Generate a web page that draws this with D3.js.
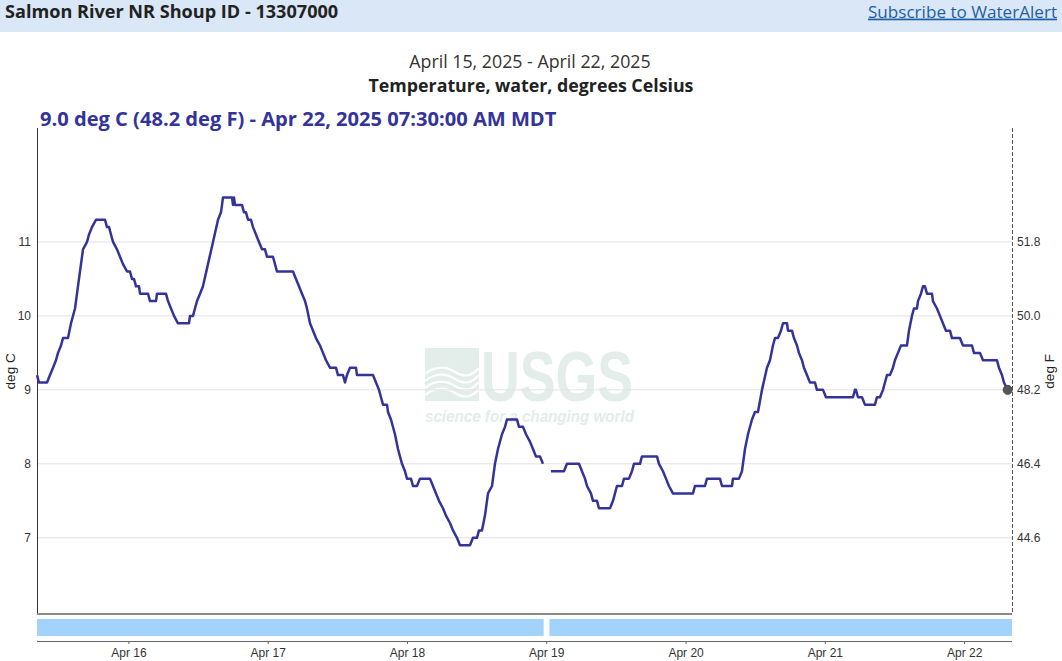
<!DOCTYPE html>
<html>
<head>
<meta charset="utf-8">
<script src="https://cdn.jsdelivr.net/npm/d3@7"></script>
<style>
  html, body { margin: 0; padding: 0; background: #fff; }
  svg { display: block; }
</style>
</head>
<body>
<svg id="chart" width="1062" height="661"></svg>
<script>
// ---------------- DATA ----------------
const siteTitle = "Salmon River NR Shoup ID - 13307000";
const linkText = "Subscribe to WaterAlert";
const dateRangeText = "April 15, 2025 - April 22, 2025";
const paramText = "Temperature, water, degrees Celsius";
const latestText = "9.0 deg C (48.2 deg F) - Apr 22, 2025 07:30:00 AM MDT";
const leftAxisLabel = "deg C";
const rightAxisLabel = "deg F";

// Series start (local MDT clock time) and window length
const seriesStart = "2025-04-15T08:15:00Z";
const windowHours = 168;

// Readings: hours since seriesStart, water temperature (deg C); null = gap in record
const hours = [
  0, 0.34, 1.72, 2.24, 2.76, 3.27, 3.62, 4.14, 4.48, 5.34, 5.86, 6.55, 7.06, 7.93, 8.62, 8.96, 9.48, 10.17,
  11.72, 12.06, 12.41, 12.75, 13.10, 13.78, 14.30, 14.82, 15.51, 16.02, 16.37, 16.71, 17.06, 17.58, 17.75,
  19.13, 19.47, 20.50, 20.68, 22.23, 22.57, 23.09, 23.61, 24.29, 26.19, 26.36, 26.88, 27.22, 27.57, 28.09,
  28.60, 29.46, 30.33, 31.19, 31.70, 31.88, 32.05, 33.60, 33.77, 33.94, 34.12, 35.32, 35.67, 36.01, 36.36,
  36.87, 37.22, 37.73, 38.25, 38.77, 39.28, 39.63, 40.66, 41.01, 41.35, 44.11, 44.63, 45.14, 45.66, 46.18,
  46.52, 47.04, 47.56, 48.07, 48.76, 49.28, 49.80, 50.48, 51.52, 51.86, 52.72, 53.07, 53.41, 53.93, 54.96,
  55.14, 57.89, 58.41, 58.93, 59.27, 59.62, 60.31, 60.48, 60.99, 61.68, 62.20, 62.89, 63.41, 63.75, 64.44,
  64.79, 65.47, 65.99, 67.71, 68.23, 68.75, 69.27, 69.95, 70.47, 71.16, 71.68, 72.37, 72.88, 74.61, 75.12,
  75.81, 76.16, 76.67, 77.19, 77.71, 78.40, 78.91, 79.43, 80.12, 80.64, 80.98, 82.70, 83.05, 83.74, 84.26,
  84.94, 85.46, 85.98, 86.67, 87.18,
  87.80,
  88.56, 90.80, 91.32, 93.39, 93.90, 94.42, 94.77, 95.45, 95.80, 96.49, 96.83, 98.73, 99.25, 99.59, 99.93,
  100.80, 101.14, 102.00, 102.52, 102.86, 103.90, 104.24, 106.83, 107.17, 107.86, 108.38, 108.89, 109.58,
  113.03, 113.37, 115.10, 115.44, 117.68, 118.03, 119.75, 119.92, 120.96, 121.47, 121.99, 122.51, 123.20,
  123.71, 124.23, 124.92, 125.78, 126.30, 126.81, 127.16, 127.67, 128.19, 128.54, 129.23, 129.40, 130.09,
  130.43, 130.95, 131.29, 131.81, 132.15, 132.67, 133.19, 134.05, 134.39, 135.43, 135.95, 140.60, 140.94,
  141.11, 141.46, 142.15, 142.66, 144.39, 144.73, 145.25, 145.77, 146.11, 146.46, 146.97, 147.49, 147.83,
  148.35, 148.87, 149.90, 150.25, 150.76, 151.11, 151.62, 151.80, 152.31, 152.66, 153.00, 153.35, 154.21,
  154.38, 155.07, 155.59, 156.10, 156.62, 157.31, 157.66, 159.03, 159.55, 161.10, 161.45, 162.48, 163.00,
  165.41, 165.75, 166.27, 166.61, 167.25
];
const tempC = [
  9.2, 9.1, 9.1, 9.2, 9.3, 9.4, 9.5, 9.6, 9.7, 9.7, 9.9, 10.1, 10.4, 10.9, 11.0, 11.1, 11.2, 11.3,
  11.3, 11.2, 11.2, 11.1, 11.0, 10.9, 10.8, 10.7, 10.6, 10.6, 10.5, 10.5, 10.4, 10.4, 10.3,
  10.3, 10.2, 10.2, 10.3, 10.3, 10.2, 10.1, 10.0, 9.9, 9.9, 10.0, 10.0, 10.1, 10.2, 10.3,
  10.4, 10.7, 11.0, 11.3, 11.4, 11.5, 11.6, 11.6, 11.5, 11.6, 11.5, 11.5, 11.4, 11.4, 11.3,
  11.3, 11.2, 11.1, 11.0, 10.9, 10.9, 10.8, 10.8, 10.7, 10.6, 10.6, 10.5, 10.4, 10.3, 10.2,
  10.1, 9.9, 9.8, 9.7, 9.6, 9.5, 9.4, 9.3, 9.3, 9.2, 9.2, 9.1, 9.2, 9.3, 9.3,
  9.2, 9.2, 9.1, 9.0, 8.9, 8.8, 8.8, 8.7, 8.6, 8.4, 8.2, 8.0, 7.9, 7.8, 7.8,
  7.7, 7.7, 7.8, 7.8, 7.7, 7.6, 7.5, 7.4, 7.3, 7.2, 7.1, 7.0, 6.9, 6.9, 7.0,
  7.0, 7.1, 7.1, 7.3, 7.6, 7.7, 8.0, 8.2, 8.4, 8.5, 8.6, 8.6, 8.5, 8.5, 8.4,
  8.3, 8.2, 8.1, 8.1, 8.0,
  null,
  7.9, 7.9, 8.0, 8.0, 7.9, 7.8, 7.7, 7.6, 7.5, 7.5, 7.4, 7.4, 7.5, 7.6, 7.7,
  7.7, 7.8, 7.8, 7.9, 8.0, 8.0, 8.1, 8.1, 8.0, 7.9, 7.8, 7.7, 7.6,
  7.6, 7.7, 7.7, 7.8, 7.8, 7.7, 7.7, 7.8, 7.8, 7.9, 8.2, 8.4, 8.6,
  8.7, 8.7, 9.0, 9.3, 9.4, 9.6, 9.7, 9.7, 9.8, 9.9, 9.9, 9.8, 9.8,
  9.7, 9.6, 9.5, 9.4, 9.3, 9.2, 9.1, 9.1, 9.0, 9.0, 8.9, 8.9, 9.0,
  9.0, 8.9, 8.9, 8.8, 8.8, 8.9, 8.9, 9.0, 9.1, 9.2, 9.2, 9.3, 9.4,
  9.5, 9.6, 9.6, 9.8, 10.0, 10.1, 10.1, 10.2, 10.3, 10.4, 10.4, 10.3, 10.3,
  10.2, 10.1, 10.0, 9.9, 9.8, 9.8, 9.7, 9.7, 9.6, 9.6, 9.5, 9.5, 9.4,
  9.4, 9.3, 9.2, 9.1, 9.0
];

// Record-coverage periods (hours since seriesStart)
const coverageFrom = [0, 88.3];
const coverageTo = [87.3, 168];

// Axis ticks
const yTicksC = [7, 8, 9, 10, 11];
const yTicksF = ["44.6", "46.4", "48.2", "50.0", "51.8"];
const yDomain = [5.97, 12.54];

// ---------------- DRAW ----------------
const svg = d3.select("#chart");
const W = 1062, H = 661;
const plot = { left: 37, right: 1012, top: 128, bottom: 614 };
const lineColor = "#333399";
const headFont = "'Source Sans Pro','Open Sans','Noto Sans',sans-serif";
const axisFont = "'Liberation Sans', Arial, sans-serif";

const t0 = new Date(seriesStart);
const toDate = h => new Date(t0.getTime() + h * 3600e3);

const x = d3.scaleUtc()
  .domain([t0, toDate(windowHours)])
  .range([plot.left, plot.right]);
const y = d3.scaleLinear().domain(yDomain).range([plot.bottom, plot.top]);

const data = hours.map((h, i) => ({ t: toDate(h), v: tempC[i] }));

// Header bar
svg.append("rect").attr("x", 0).attr("y", 0).attr("width", W).attr("height", 32)
  .attr("fill", "#d9e7f6");
svg.append("text").attr("x", 5).attr("y", 13).attr("dominant-baseline", "middle")
  .attr("font-family", headFont).attr("font-weight", "bold").attr("font-size", 18.1)
  .attr("fill", "#222").text(siteTitle);
svg.append("text").attr("x", 1057).attr("y", 13).attr("dominant-baseline", "middle")
  .attr("text-anchor", "end").attr("text-decoration", "underline")
  .attr("font-family", headFont).attr("font-size", 17.1)
  .attr("fill", "#1f5fa6").text(linkText);

// Titles
svg.append("text").attr("x", 530).attr("y", 63).attr("dominant-baseline", "middle")
  .attr("text-anchor", "middle").attr("font-family", headFont).attr("font-size", 17.8)
  .attr("fill", "#333").text(dateRangeText);
svg.append("text").attr("x", 531).attr("y", 87).attr("dominant-baseline", "middle")
  .attr("text-anchor", "middle").attr("font-family", headFont).attr("font-size", 17.8)
  .attr("font-weight", "bold").attr("fill", "#222").text(paramText);
svg.append("text").attr("x", 40).attr("y", 121).attr("dominant-baseline", "middle")
  .attr("font-family", headFont).attr("font-size", 20.1)
  .attr("font-weight", "bold").attr("fill", lineColor).text(latestText);

// Watermark (USGS)
const wm = svg.append("g").attr("fill", "#e3ede9");
wm.append("rect").attr("x", 425).attr("y", 348).attr("width", 54).attr("height", 53);
const waves = wm.append("g").attr("fill", "none").attr("stroke", "#fff").attr("stroke-width", 2.2);
[0, 1, 2, 3].forEach(i => {
  const yy = 370 + i * 7;
  waves.append("path").attr("d",
    `M425,${yy + 4} C435,${yy - 4} 445,${yy - 4} 455,${yy + 2} S472,${yy + 6} 479,${yy - 2}`);
});
wm.append("text").attr("x", 0).attr("y", 0)
  .attr("transform", "translate(481,401) scale(0.78,1)")
  .attr("font-family", "'Liberation Sans Narrow','Liberation Sans',Arial,sans-serif")
  .attr("font-weight", "bold").attr("font-size", 71).attr("textLength", 195)
  .attr("lengthAdjust", "spacingAndGlyphs").text("USGS");
wm.append("text").attr("x", 425).attr("y", 422)
  .attr("font-family", "'Liberation Sans',Arial,sans-serif").attr("font-style", "italic")
  .attr("font-weight", "bold").attr("font-size", 16.5).attr("textLength", 209)
  .attr("lengthAdjust", "spacingAndGlyphs").text("science for a changing world");

// Gridlines
svg.append("g").selectAll("line").data(yTicksC).join("line")
  .attr("x1", plot.left).attr("x2", plot.right)
  .attr("y1", d => y(d)).attr("y2", d => y(d))
  .attr("stroke", "#e2e2e2").attr("stroke-width", 1);

// Left axis
const yAxisL = d3.axisLeft(y).tickValues(yTicksC).tickSize(0).tickPadding(6).tickFormat(d3.format("d"));
const gL = svg.append("g").attr("transform", `translate(${plot.left},0)`).call(yAxisL);
gL.select(".domain").remove();
gL.selectAll("text").attr("font-family", axisFont).attr("font-size", 12).attr("fill", "#333");
svg.append("line").attr("x1", plot.left + 0.5).attr("x2", plot.left + 0.5)
  .attr("y1", plot.top).attr("y2", plot.bottom).attr("stroke", "#333").attr("stroke-width", 1);

// Right axis (deg F)
const yAxisR = d3.axisRight(y).tickValues(yTicksC).tickSize(0).tickPadding(5)
  .tickFormat((d, i) => yTicksF[i]);
const gR = svg.append("g").attr("transform", `translate(${plot.right},0)`).call(yAxisR);
gR.select(".domain").remove();
gR.selectAll("text").attr("font-family", axisFont).attr("font-size", 12).attr("fill", "#333");
svg.append("line").attr("x1", plot.right + 0.5).attr("x2", plot.right + 0.5)
  .attr("y1", plot.top).attr("y2", plot.bottom).attr("stroke", "#555")
  .attr("stroke-width", 1).attr("stroke-dasharray", "4,2");

// Axis titles
svg.append("text").attr("transform", `translate(11,${y(9.25)}) rotate(-90)`)
  .attr("text-anchor", "middle").attr("dominant-baseline", "middle")
  .attr("font-family", axisFont).attr("font-size", 13.5).attr("fill", "#222").text(leftAxisLabel);
svg.append("text").attr("transform", `translate(1050,${y(9.25)}) rotate(-90)`)
  .attr("text-anchor", "middle").attr("dominant-baseline", "middle")
  .attr("font-family", axisFont).attr("font-size", 13.5).attr("fill", "#222").text(rightAxisLabel);

// Bottom frame line
svg.append("line").attr("x1", plot.left).attr("x2", plot.right)
  .attr("y1", plot.bottom).attr("y2", plot.bottom).attr("stroke", "#8a8a8a").attr("stroke-width", 2);

// Data line
const line = d3.line().defined(d => d.v != null).x(d => x(d.t)).y(d => y(d.v));
svg.append("path").datum(data).attr("d", line)
  .attr("fill", "none").attr("stroke", lineColor).attr("stroke-width", 2.5)
  .attr("stroke-linejoin", "round");

// Latest point marker
const last = data[data.length - 1];
svg.append("circle").attr("cx", x(last.t)).attr("cy", y(last.v)).attr("r", 4.5)
  .attr("fill", "#555").attr("stroke", "#444").attr("stroke-width", 1);

// Coverage bars
const cov = coverageFrom.map((f, i) => ({ a: toDate(f), b: toDate(coverageTo[i]) }));
svg.append("g").selectAll("rect").data(cov).join("rect")
  .attr("x", d => x(d.a)).attr("width", d => x(d.b) - x(d.a))
  .attr("y", 619).attr("height", 17).attr("fill", "#a1d3fc");

// Bottom time axis
const xAxis = d3.axisBottom(x).ticks(d3.utcDay.every(1)).tickSize(3).tickPadding(4)
  .tickFormat(d3.utcFormat("%b %d"));
const gX = svg.append("g").attr("transform", "translate(0,641)").call(xAxis);
gX.select(".domain").attr("stroke", "#666").attr("d", `M${plot.left},0.5H${plot.right}`);
gX.selectAll(".tick line").attr("stroke", "#666");
gX.selectAll("text").attr("font-family", axisFont).attr("font-size", 12).attr("fill", "#333");
</script>
</body>
</html>
